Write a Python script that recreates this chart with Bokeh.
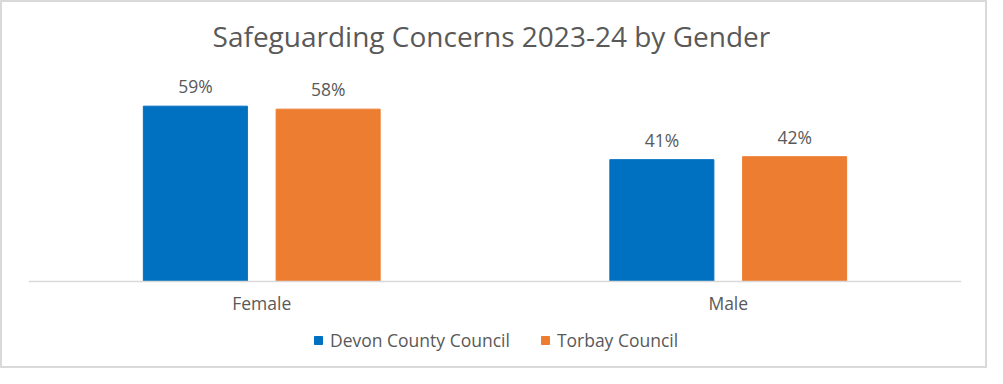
from bokeh.plotting import figure
from bokeh.models import (ColumnDataSource, FactorRange, Range1d, LabelSet, Label, Span,
                          Legend, LegendItem)
from bokeh.core.properties import value
from bokeh.transform import dodge
from bokeh.embed import file_html
from bokeh.resources import INLINE

genders = ["Female", "Male"]
devon = [0.59, 0.41]
torbay = [0.58, 0.42]
devon_labels = ["59%", "41%"]
torbay_labels = ["58%", "42%"]
series_names = ["Devon County Council", "Torbay Council"]
title_text = "Safeguarding Concerns  2023-24 by Gender"

BLUE = "#0070C0"
ORANGE = "#ED7D31"
TXT = "#595959"
FONT = "Open Sans"
FS = "17.5px"

# layout (pixels)
W, H = 987, 368
FT, FB = 2, 366          # frame top / bottom pixel rows
AXIS_Y = 279             # pixel row of the category axis
SCALE_TOP = 71           # pixel row of the 70% level
YMAX_VAL = 0.7
ppu = (AXIS_Y - SCALE_TOP) / YMAX_VAL
y_top = (AXIS_Y - FT) / ppu
y_bot = -(FB - AXIS_Y) / ppu

src = ColumnDataSource(dict(gender=genders, devon=devon, torbay=torbay,
                            dl=devon_labels, tl=torbay_labels, zero=[0, 0]))

p = figure(width=W, height=H, x_range=FactorRange(*genders), y_range=Range1d(y_bot, y_top),
           output_backend="svg", toolbar_location=None,
           min_border_left=26, min_border_right=28, min_border_top=FT,
           min_border_bottom=H - FB)
p.styles = {"border": "2px solid #D9D9D9", "box-sizing": "border-box"}

off = 0.1423
w = 0.223
r1 = p.vbar(x=dodge("gender", -off, range=p.x_range), top="devon", bottom=0, width=w,
            source=src, fill_color=BLUE, line_color=BLUE)
r2 = p.vbar(x=dodge("gender", off, range=p.x_range), top="torbay", bottom=0, width=w,
            source=src, fill_color=ORANGE, line_color=ORANGE)

# category axis line
p.add_layout(Span(location=0, dimension="width", line_color="#D9D9D9", line_width=1.5))

for col, lab, o in (("devon", "dl", -off), ("torbay", "tl", off)):
    p.add_layout(LabelSet(x=dodge("gender", o, range=p.x_range), y=col, text=lab, source=src,
                          y_offset=13, text_align="center", text_baseline="alphabetic",
                          text_font=value(FONT), text_font_size=value(FS), text_color=TXT))

# category labels
p.add_layout(LabelSet(x="gender", y="zero", text="gender", source=src, y_offset=-28,
                      text_align="center", text_baseline="alphabetic",
                      text_font=value(FONT), text_font_size=value(FS), text_color=TXT))

# title (centred between the two categories)
p.add_layout(Label(x=1.0, y=0, y_offset=AXIS_Y - 33, text=title_text, text_align="center",
                   text_baseline="alphabetic", text_font=FONT, text_font_size="28px",
                   text_color=TXT))

p.xaxis.visible = False
p.yaxis.visible = False
p.xgrid.visible = False
p.ygrid.visible = False
p.outline_line_color = None

legend = Legend(items=[LegendItem(label=series_names[0], renderers=[r1]),
                       LegendItem(label=series_names[1], renderers=[r2])],
                location=(285, 16), orientation="horizontal",
                glyph_width=10, glyph_height=10, label_standoff=7, spacing=30,
                padding=0, margin=0, border_line_color=None, background_fill_alpha=0,
                label_text_font=FONT, label_text_font_size=FS, label_text_color=TXT)
p.add_layout(legend, "center")

open("out.html", "w").write(file_html(p, INLINE))
